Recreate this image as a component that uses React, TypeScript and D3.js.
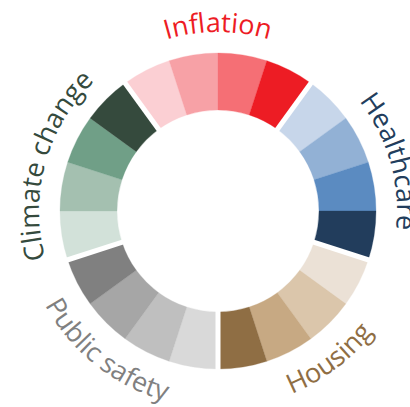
import React from "react";
import * as d3 from "d3";

const groups = ["Inflation", "Healthcare", "Housing", "Public safety", "Climate change"];
const groupShares = [1, 1, 1, 1, 1];
const segmentShares = [
  [25, 25, 25, 25],
  [25, 25, 25, 25],
  [25, 25, 25, 25],
  [25, 25, 25, 25],
  [25, 25, 25, 25],
];
const segmentColors = [
  ["#FBCFD3", "#F7A1A6", "#F56F75", "#ED1C24"],
  ["#C7D6EA", "#92B1D5", "#5B8BC1", "#223D5C"],
  ["#EBE1D6", "#DBC6AB", "#C7A983", "#8F6E44"],
  ["#D9D9D9", "#BFBFBF", "#A6A6A6", "#808080"],
  ["#D2E1D9", "#A4C0B0", "#709F87", "#354A3D"],
];
const labelColors = ["#ED1C24", "#223D5C", "#8F6E44", "#808080", "#354A3D"];

export default function App() {
  const W = 410, H = 407;
  const cx = 218, cy = 211;
  const rOuter = 158, rInner = 101;
  const rTextTop = 179, rTextBottom = 197;
  const offset = -Math.PI / 5;
  const labelShiftDeg = [0, 2, -1, 2.5, -2.5];

  const groupPie = d3
    .pie<number>()
    .sort(null)
    .value((d) => d)
    .startAngle(offset)
    .endAngle(2 * Math.PI + offset);
  const gArcs = groupPie(groupShares);

  const arcGen = d3.arc<any>().innerRadius(rInner).outerRadius(rOuter);

  const pt = (r: number, a: number) => [r * Math.sin(a), -r * Math.cos(a)];

  const segs: any[] = [];
  gArcs.forEach((ga, g) => {
    const p = d3
      .pie<number>()
      .sort(null)
      .value((d) => d)
      .startAngle(ga.startAngle)
      .endAngle(ga.endAngle)(segmentShares[g]);
    p.forEach((s, i) => segs.push({ s, color: segmentColors[g][i], key: `${g}-${i}` }));
  });

  const labelPaths = gArcs.map((ga, g) => {
    const mid = (ga.startAngle + ga.endAngle) / 2 + (labelShiftDeg[g] * Math.PI) / 180;
    const bottom = Math.cos(mid) < 0;
    const span = (85 * Math.PI) / 180;
    if (!bottom) {
      const [x0, y0] = pt(rTextTop, mid - span);
      const [x1, y1] = pt(rTextTop, mid + span);
      return `M${x0},${y0} A${rTextTop},${rTextTop} 0 0 1 ${x1},${y1}`;
    } else {
      const [x0, y0] = pt(rTextBottom, mid + span);
      const [x1, y1] = pt(rTextBottom, mid - span);
      return `M${x0},${y0} A${rTextBottom},${rTextBottom} 0 0 0 ${x1},${y1}`;
    }
  });

  return (
    <svg
      width={W}
      height={H}
      style={{ position: "absolute", left: 0, top: 0, background: "#fff" }}
      fontFamily="'Open Sans', Lato, sans-serif"
    >
      <defs>
        {labelPaths.map((d, g) => (
          <path key={g} id={`lp${g}`} d={d} fill="none" />
        ))}
      </defs>
      <g transform={`translate(${cx},${cy})`}>
        {segs.map((d) => (
          <path key={d.key} d={arcGen(d.s) as string} fill={d.color} stroke={d.color} strokeWidth={0.3} />
        ))}
        {gArcs.map((ga, g) => {
          const [x0, y0] = pt(rInner - 3, ga.startAngle);
          const [x1, y1] = pt(rOuter + 3, ga.startAngle);
          return <line key={g} x1={x0} y1={y0} x2={x1} y2={y1} stroke="#fff" strokeWidth={5} />;
        })}
        {groups.map((name, g) => (
          <text key={name} fontSize={27} fill={labelColors[g]}>
            <textPath href={`#lp${g}`} startOffset="50%" textAnchor="middle">
              {name}
            </textPath>
          </text>
        ))}
      </g>
    </svg>
  );
}
